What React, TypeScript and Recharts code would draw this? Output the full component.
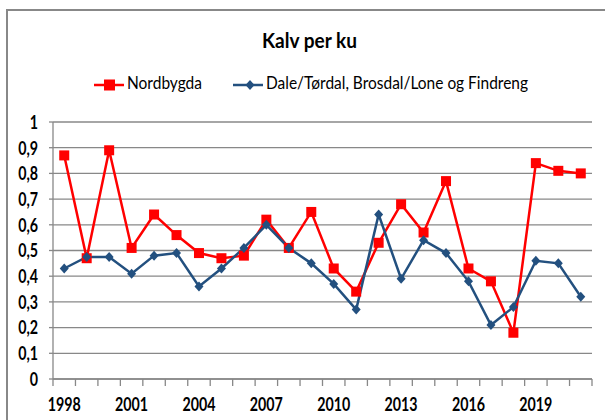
import { LineChart, Line, XAxis, YAxis, CartesianGrid } from 'recharts'

const years = [
  1998, 1999, 2000, 2001, 2002, 2003, 2004, 2005, 2006, 2007, 2008, 2009,
  2010, 2011, 2012, 2013, 2014, 2015, 2016, 2017, 2018, 2019, 2020, 2021,
]
const nordbygda = [
  0.87, 0.47, 0.89, 0.51, 0.64, 0.56, 0.49, 0.47, 0.48, 0.62, 0.51, 0.65,
  0.43, 0.34, 0.53, 0.68, 0.57, 0.77, 0.43, 0.38, 0.18, 0.84, 0.81, 0.8,
]
const dale = [
  0.43, 0.475, 0.475, 0.41, 0.48, 0.49, 0.36, 0.43, 0.51, 0.6, 0.51, 0.45,
  0.37, 0.27, 0.64, 0.39, 0.54, 0.49, 0.38, 0.21, 0.28, 0.46, 0.45, 0.32,
]
const yTicks = [0, 0.1, 0.2, 0.3, 0.4, 0.5, 0.6, 0.7, 0.8, 0.9, 1]
const yearLabels = [1998, 2001, 2004, 2007, 2010, 2013, 2016, 2019]

const RED = '#ff0000'
const BLUE = '#23507f'
const GRID = '#888888'
const FONT = 'Lato, "Open Sans", sans-serif'
// the original font is narrow (Calibri-like), so squeeze Lato sideways
const SQUEEZE = 0.75

const data = years.map((year, i) => ({ year, nordbygda: nordbygda[i], dale: dale[i] }))

// tick marks sit between categories, labels on the category itself
const bounds = [...years.map((y) => y - 0.5), years[years.length - 1] + 0.5]
const xTicks = [...bounds, ...yearLabels].sort((a, b) => a - b)

const Square = (props: any) => {
  const { cx, cy, index } = props
  if (cx == null || cy == null) return <g key={index} />
  return <rect key={index} x={cx - 5} y={cy - 5} width={10} height={10} fill={RED} />
}

const Diamond = (props: any) => {
  const { cx, cy, index } = props
  if (cx == null || cy == null) return <g key={index} />
  return (
    <polygon
      key={index}
      points={`${cx},${cy - 5} ${cx + 4.5},${cy} ${cx},${cy + 5} ${cx - 4.5},${cy}`}
      fill={BLUE}
    />
  )
}

const XTick = (props: any) => {
  const { x, y, payload } = props
  const v = payload.value
  if (Number.isInteger(v)) {
    return (
      <g transform={`translate(${x},${y + 31.5}) scale(${SQUEEZE},1)`}>
        <text x={0} y={0} textAnchor="middle" fill="#000" fontSize={19} fontWeight="bold" fontFamily={FONT}>
          {v}
        </text>
      </g>
    )
  }
  return <line x1={x} y1={y} x2={x} y2={y + 7} stroke={GRID} strokeWidth={1.3} />
}

const YTick = (props: any) => {
  const { x, y, payload } = props
  return (
    <g transform={`translate(${x},${y}) scale(${SQUEEZE},1)`}>
      <text x={0} y={0} dy="0.36em" textAnchor="end" fill="#000" fontSize={19} fontWeight="bold" fontFamily={FONT}>
        {String(payload.value).replace('.', ',')}
      </text>
    </g>
  )
}

export default function App() {
  return (
    <div
      style={{
        position: 'fixed',
        left: 0,
        top: 0,
        width: 605,
        height: 420,
        overflow: 'hidden',
        background: '#fff',
      }}
    >
      <div
        style={{
          position: 'absolute',
          left: 6,
          top: 9,
          width: 700,
          height: 500,
          border: `2px solid ${GRID}`,
        }}
      />
      <div style={{ position: 'absolute', left: 0, top: 0 }}>
        <LineChart width={605} height={420} data={data} margin={{ top: 122, right: 13, bottom: 11, left: 0 }}>
          <CartesianGrid vertical={false} stroke={GRID} strokeWidth={1.3} />
          <XAxis
            dataKey="year"
            type="number"
            domain={[bounds[0], bounds[bounds.length - 1]]}
            ticks={xTicks}
            interval={0}
            height={30}
            tickSize={0}
            tickMargin={0}
            tickLine={false}
            axisLine={{ stroke: GRID, strokeWidth: 1.3 }}
            tick={XTick}
          />
          <YAxis
            domain={[0, 1]}
            ticks={yTicks}
            interval={0}
            width={53}
            tickSize={4}
            tickMargin={11}
            axisLine={{ stroke: GRID, strokeWidth: 1.3 }}
            tickLine={{ stroke: GRID, strokeWidth: 1.3 }}
            tick={YTick}
          />
          <Line
            dataKey="nordbygda"
            stroke={RED}
            strokeWidth={2.5}
            dot={Square}
            activeDot={false}
            isAnimationActive={false}
          />
          <Line
            dataKey="dale"
            stroke={BLUE}
            strokeWidth={2.5}
            dot={Diamond}
            activeDot={false}
            isAnimationActive={false}
          />
        </LineChart>
      </div>
      <svg width={605} height={420} style={{ position: 'absolute', left: 0, top: 0, pointerEvents: 'none' }}>
        <text
          x={262}
          y={47.5}
          fontFamily={FONT}
          fontSize={21}
          fontWeight="bold"
          fill="#000"
          textLength={95}
          lengthAdjust="spacingAndGlyphs"
        >
          Kalv per ku
        </text>
        <line x1={94} y1={85} x2={124} y2={85} stroke={RED} strokeWidth={2.5} />
        <rect x={104} y={79.5} width={11} height={11} fill={RED} />
        <text x={127} y={89} fontFamily={FONT} fontSize={17} fill="#000" textLength={75} lengthAdjust="spacingAndGlyphs">
          Nordbygda
        </text>
        <line x1={233} y1={85} x2={263} y2={85} stroke={BLUE} strokeWidth={2.5} />
        <polygon points="250,80 254.5,85 250,90 245.5,85" fill={BLUE} />
        <text x={266} y={89} fontFamily={FONT} fontSize={17} fill="#000" textLength={262} lengthAdjust="spacingAndGlyphs">
          Dale/Tørdal, Brosdal/Lone og Findreng
        </text>
      </svg>
    </div>
  )
}
